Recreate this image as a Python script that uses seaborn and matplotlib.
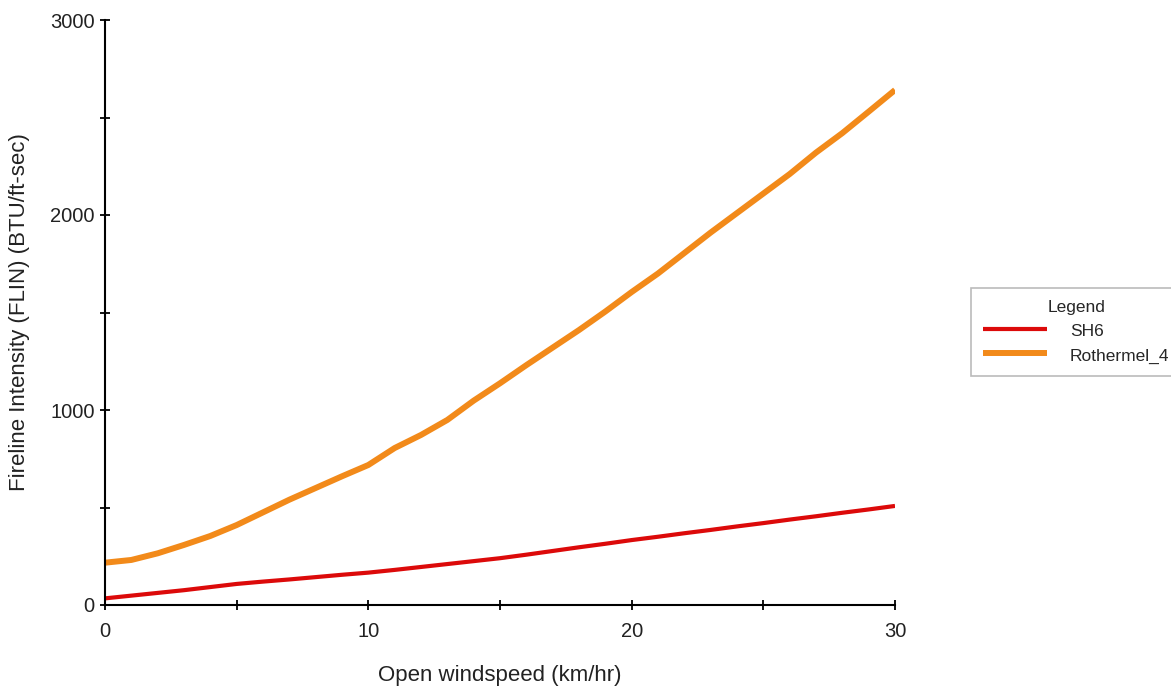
import numpy as np
import pandas as pd
import matplotlib
matplotlib.use("Agg")
import matplotlib.pyplot as plt
from matplotlib.ticker import MultipleLocator
import seaborn as sns

windspeed = list(range(0, 31))
sh6 = [34, 48, 62, 76, 92, 108, 120, 131, 143, 155, 166, 180, 195, 210, 225, 240,
       258, 277, 296, 314, 333, 350, 368, 385, 403, 420, 438, 455, 473, 490, 508]
rothermel_4 = [217, 231, 265, 308, 354, 410, 475, 540, 600, 660, 718, 805, 872, 949,
               1048, 1137, 1230, 1320, 1410, 1505, 1605, 1700, 1805, 1910, 2010, 2110,
               2210, 2320, 2420, 2530, 2641]
series_names = ["SH6", "Rothermel_4"]
series_colors = ["#DC0A0A", "#F28A1A"]
series_widths = [3.0, 4.3]
x_ticks = [0, 10, 20, 30]
y_ticks = [0, 1000, 2000, 3000]

sns.set_style("white")
plt.rcParams["font.family"] = ["Liberation Sans", "DejaVu Sans"]

fig = plt.figure(figsize=(11.71, 6.89), dpi=100)
ax = fig.add_axes([105/1171, 1 - 605/689, (895-105)/1171, (605-20)/689])

df = pd.DataFrame({
    "x": windspeed * 2,
    "y": sh6 + rothermel_4,
    "series": [series_names[0]] * len(windspeed) + [series_names[1]] * len(windspeed),
})
for name, col, lw in zip(series_names, series_colors, series_widths):
    sub = df[df["series"] == name]
    sns.lineplot(data=sub, x="x", y="y", ax=ax, color=col, linewidth=lw,
                 label=name, legend=False, solid_capstyle="butt")

ax.set_xlim(0, 30)
ax.set_ylim(0, 3000)
ax.set_xticks(x_ticks)
ax.set_yticks(y_ticks)
ax.xaxis.set_minor_locator(MultipleLocator(5))
ax.yaxis.set_minor_locator(MultipleLocator(500))
ax.tick_params(axis="both", which="both", direction="inout", length=7, width=1.3,
               color="black", labelsize=14.5, labelcolor="#222222")
ax.tick_params(axis="x", which="both", pad=9)
ax.tick_params(axis="y", which="both", pad=4)
ax.tick_params(axis="both", which="both", bottom=True, left=True)
for side in ["top", "right"]:
    ax.spines[side].set_visible(False)
for side in ["left", "bottom"]:
    ax.spines[side].set_color("black")
    ax.spines[side].set_linewidth(1.5)
ax.set_xlabel("Open windspeed (km/hr)", fontsize=16, color="#222222", va="center")
ax.set_ylabel("Fireline Intensity (FLIN) (BTU/ft-sec)", fontsize=16, color="#222222", va="center")
ax.xaxis.set_label_coords(0.5, (605 - 676) / 585)
ax.yaxis.set_label_coords((20 - 105) / 790, 0.5)
ax.grid(False)

handles, labels = ax.get_legend_handles_labels()
leg = fig.legend(handles, labels, title="Legend", loc="upper left",
                 bbox_to_anchor=(971/1171, 1 - 288/689), fontsize=12.5, title_fontsize=12.5,
                 frameon=True, fancybox=False, shadow=False, handlelength=3.7,
                 handleheight=1.1, handletextpad=1.3, labelspacing=0.4,
                 borderpad=0.7, borderaxespad=0)
leg.get_frame().set_edgecolor("#AAAAAA")
leg.get_frame().set_linewidth(1.2)

fig.savefig("out.png", dpi=100)
